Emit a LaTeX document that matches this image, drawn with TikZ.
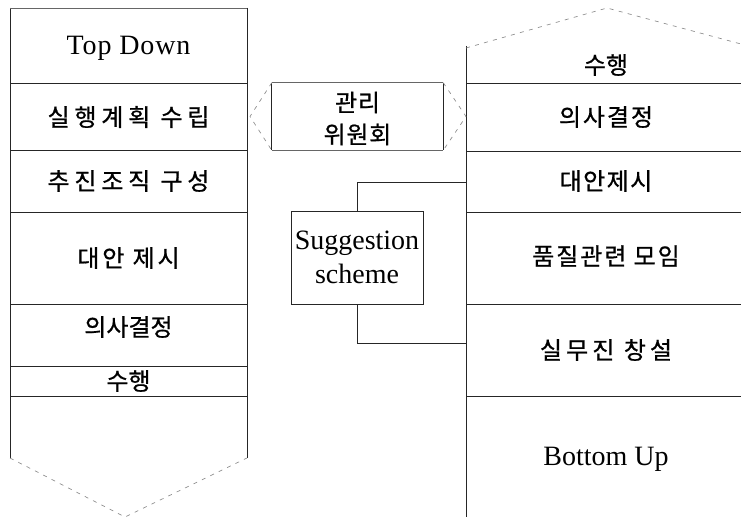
\documentclass[tikz,border=0pt]{standalone}
\usepackage{fontspec}
\setmainfont{Liberation Serif}
\newfontfamily\kr{Noto Sans CJK KR}[FakeBold=0.8]
\newcommand{\ks}[2]{{\kr\addfontfeature{LetterSpace=#1}#2}}
\begin{document}
\begin{tikzpicture}[x=0.75pt,y=-0.75pt,
  rule/.style={draw=black!85,line width=0.6pt},
  faint/.style={draw=black!45,line width=0.5pt,dash pattern=on 3pt off 4pt},
  lab/.style={inner sep=0pt,font=\fontsize{18pt}{22pt}\selectfont},
  lat/.style={inner sep=0pt,font=\fontsize{21pt}{25pt}\selectfont,align=center}]
\path[fill=white] (0,0) rectangle (741,517);
\useasboundingbox (0,0) rectangle (741,517);
% ---------------- left column (Top Down)
\draw[rule] (10,8) -- (10,458);
\draw[rule] (247,8) -- (247,458);
\draw[rule,draw=black!60] (10,8) -- (247,8);
\foreach \y in {83,150,212,304,366,396} \draw[rule] (10,\y) -- (247,\y);
\draw[faint] (10,458) -- (125,517) -- (247,458);
\node[lat] (td) at (128.5,48) {\addfontfeature{LetterSpace=3}Top Down};
\node[lab] (l1) at (128.5,117) {\ks{20}{실행계획 수립}};
\node[lab] (l2) at (128.5,181) {\ks{20}{추진조직 구성}};
\node[lab] (l3) at (128.5,258) {\ks{12}{대안 제시}};
\node[lab] (l4) at (128.5,327) {\ks{0}{의사결정}};
\node[lab] (l5) at (128.5,381) {\ks{0}{수행}};
% ---------------- right column (Bottom Up)
\draw[rule] (466,46) -- (466,517);
\draw[faint] (466,48) -- (607,8) -- (741,44);
\foreach \y in {83,151,212,304,396} \draw[rule] (466,\y) -- (741,\y);
\node[lab] (r1) at (606,65) {\ks{0}{수행}};
\node[lab] (r2) at (606,117) {\ks{8}{의사결정}};
\node[lab] (r3) at (606,181) {\ks{6}{대안제시}};
\node[lab] (r4) at (606,256) {\ks{8}{품질관련 모임}};
\node[lab] (r5) at (606,350) {\ks{17}{실무진 창설}};
\node[lat] (bu) at (606,459) {Bottom Up};
% ---------------- committee box
\node[inner sep=0pt,minimum width=171*0.75pt,minimum height=67*0.75pt] (cmt) at (357.5,116.5) {};
\node[lab,align=center,font=\fontsize{18pt}{24pt}\selectfont] (cmtt) at (357.5,118.5)
  {\ks{3}{관리}\\\ks{3}{위원회}};
\draw[rule] (cmt.north west) -- (cmt.south west);
\draw[rule] (cmt.north east) -- (cmt.south east);
\draw[rule,draw=black!60] (cmt.north west) -- (cmt.north east);
\draw[rule,draw=black!60] (cmt.south west) -- (cmt.south east);
\coordinate (lp) at (250,116.5);
\coordinate (rp) at (466,116.5);
\draw[faint] (cmt.north west) -- (lp) -- (cmt.south west);
\draw[faint] (cmt.north east) -- (rp) -- (cmt.south east);
% ---------------- suggestion scheme
\node[lat,rule,minimum width=132*0.75pt,minimum height=93*0.75pt] (sug) at (357,257.5)
  {Suggestion\\scheme};
\coordinate (c1) at (466,182);
\coordinate (c2) at (466,343);
\draw[rule] (sug.north) |- (c1);
\draw[rule] (sug.south) |- (c2);
\end{tikzpicture}
\end{document}
